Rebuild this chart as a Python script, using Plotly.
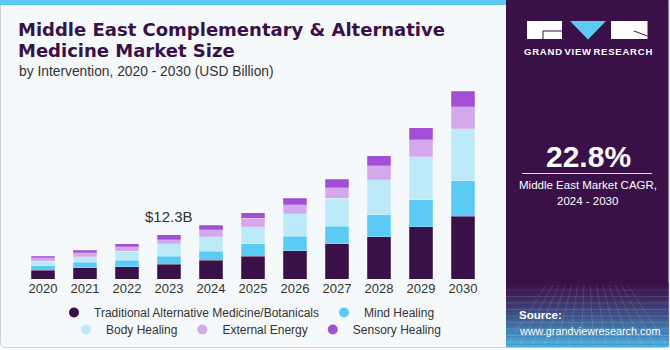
import plotly.graph_objects as go

# ---------------- data ----------------
years = ["2020", "2021", "2022", "2023", "2024", "2025", "2026", "2027", "2028", "2029", "2030"]
traditional = [2.5, 3.1, 3.4, 4.1, 5.2, 6.4, 7.9, 9.8, 11.8, 14.6, 17.6]
mind_healing = [1.2, 1.6, 1.9, 2.3, 2.6, 3.4, 4.1, 5.0, 6.1, 7.5, 9.8]
body_healing = [1.3, 1.5, 2.5, 3.4, 4.0, 4.8, 6.3, 7.7, 9.8, 12.0, 14.6]
external_energy = [0.9, 1.2, 1.2, 1.1, 2.0, 2.4, 2.4, 3.0, 3.9, 4.8, 6.1]
sensory_healing = [0.5, 0.7, 0.9, 1.4, 1.2, 1.5, 1.9, 2.3, 2.8, 3.4, 4.3]

series_names = ["Traditional Alternative Medicine/Botanicals", "Mind Healing",
                "Body Healing", "External Energy", "Sensory Healing"]
series_values = [traditional, mind_healing, body_healing, external_energy, sensory_healing]
series_colors = ["#3A1048", "#5BCAF5", "#BDEAF9", "#D4A8EC", "#A34FD5"]
legend_rows = ["legend", "legend", "legend2", "legend2", "legend2"]

title_line1 = "Middle East Complementary & Alternative"
title_line2 = "Medicine Market Size"
subtitle = "by Intervention, 2020 - 2030 (USD Billion)"
callout_year = "2023"
callout_text = "$12.3B"
cagr_value = "22.8%"
cagr_label1 = "Middle East Market CAGR,"
cagr_label2 = "2024 - 2030"

# ---------------- layout geometry (pixels) ----------------
W_FIG, H_FIG = 670, 350
L, R_EDGE = 22, 484
T, B = 85, 279
PW, PH = R_EDGE - L, B - T
Y_MAX = 54.2


def X(px):
    return (px - L) / PW


def Y(py):
    return (B - py) / PH


FONT = "Liberation Sans, Arial, sans-serif"
DARK = "#3A1048"

fig = go.Figure()

for name, vals, col in zip(series_names, series_values, series_colors):
    fig.add_trace(go.Bar(
        x=years, y=vals, name=name,
        marker=dict(color=col, line=dict(color="rgba(255,255,255,0.35)", width=0.6)),
        showlegend=False, hoverinfo="skip"))

# legend entries with round markers
for name, col, lg in zip(series_names, series_colors, legend_rows):
    fig.add_trace(go.Scatter(
        x=[None], y=[None], mode="markers", name=name, legend=lg,
        marker=dict(color=col, size=10, symbol="circle"), showlegend=True))

callout_idx = years.index(callout_year)
total_callout = sum(v[callout_idx] for v in series_values)

shapes = []
# card background
shapes.append(dict(type="path", xref="paper", yref="paper",
                   path=f"M {X(0.5)},{Y(0.5)} L {X(669)},{Y(0.5)} L {X(669)},{Y(342)} "
                        f"Q {X(669)},{Y(347.5)} {X(664)},{Y(347.5)} L {X(5.5)},{Y(347.5)} "
                        f"Q {X(0.5)},{Y(347.5)} {X(0.5)},{Y(342)} Z",
                   fillcolor="#F5F9FC", line=dict(color="#D2D2D2", width=1), layer="below"))
# top blue strip
shapes.append(dict(type="rect", xref="paper", yref="paper", x0=X(0), x1=X(506), y0=Y(0), y1=Y(5),
                   fillcolor="#5EC8F2", line=dict(width=0), layer="below"))
# right panel
shapes.append(dict(type="rect", xref="paper", yref="paper", x0=X(506), x1=X(668.5), y0=Y(0), y1=Y(347),
                   fillcolor=DARK, line=dict(width=0), layer="below"))
# gradient band at bottom of right panel
g_top, g_bot = 282, 347
n = 24
c0 = (0x3A, 0x10, 0x48)
c1 = (0x48, 0xB4, 0xE6)
for i in range(n):
    t = (i + 0.5) / n
    t2 = t ** 1.3
    c = tuple(int(c0[k] + (c1[k] - c0[k]) * t2) for k in range(3))
    y0p = g_top + (g_bot - g_top) * i / n
    y1p = g_top + (g_bot - g_top) * (i + 1) / n + 0.3
    shapes.append(dict(type="rect", xref="paper", yref="paper", x0=X(506), x1=X(668.5),
                       y0=Y(y0p), y1=Y(y1p), fillcolor=f"rgb{c}", line=dict(width=0), layer="below"))
# faint perspective grid in gradient
for i in range(9):
    yy = 290 + i * 6.5
    shapes.append(dict(type="line", xref="paper", yref="paper", x0=X(506), x1=X(668.5), y0=Y(yy), y1=Y(yy),
                       line=dict(color="rgba(255,255,255,0.12)", width=1), layer="below"))
for i in range(14):
    xx = 506 + i * 12.5
    shapes.append(dict(type="line", xref="paper", yref="paper", x0=X(587 + (xx - 587) * 0.5), x1=X(xx),
                       y0=Y(285), y1=Y(347),
                       line=dict(color="rgba(255,255,255,0.12)", width=1), layer="below"))
# logo
shapes.append(dict(type="rect", xref="paper", yref="paper", x0=X(527), x1=X(562), y0=Y(21), y1=Y(39),
                   fillcolor="white", line=dict(width=0)))
shapes.append(dict(type="path", xref="paper", yref="paper",
                   path=f"M {X(570)},{Y(21)} L {X(606)},{Y(21)} L {X(588)},{Y(39.5)} Z",
                   fillcolor="#5BCAF5", line=dict(width=0)))
shapes.append(dict(type="rect", xref="paper", yref="paper", x0=X(611), x1=X(647.5), y0=Y(21), y1=Y(39),
                   fillcolor="white", line=dict(width=0)))
shapes.append(dict(type="line", xref="paper", yref="paper", x0=X(543), x1=X(562), y0=Y(31), y1=Y(31),
                   line=dict(color=DARK, width=1)))
shapes.append(dict(type="line", xref="paper", yref="paper", x0=X(543), x1=X(543), y0=Y(31), y1=Y(39),
                   line=dict(color=DARK, width=1)))
shapes.append(dict(type="line", xref="paper", yref="paper", x0=X(634), x1=X(647.5), y0=Y(31), y1=Y(36),
                   line=dict(color=DARK, width=1)))
# CAGR separator line
shapes.append(dict(type="line", xref="paper", yref="paper", x0=X(522), x1=X(652), y0=Y(173.5), y1=Y(173.5),
                   line=dict(color="rgba(255,255,255,0.85)", width=1)))

annotations = [
    dict(text=f"<b>{title_line1}</b>", x=X(16), y=Y(29.5), xanchor="left", yanchor="middle",
         font=dict(family="DejaVu Sans, sans-serif", size=18, color=DARK)),
    dict(text=f"<b>{title_line2}</b>", x=X(16), y=Y(50.5), xanchor="left", yanchor="middle",
         font=dict(family="DejaVu Sans, sans-serif", size=18, color=DARK)),
    dict(text=subtitle, x=X(16.5), y=Y(71.5), xanchor="left", yanchor="middle",
         font=dict(family=FONT, size=13.8, color="#333333")),
    dict(text="<b>G R A N D   V I E W   R E S E A R C H</b>".replace(" ", "&#8202;"),
         x=X(587.5), y=Y(51.5), xanchor="center", yanchor="middle",
         font=dict(family=FONT, size=9.5, color="white")),
    dict(text=f"<b>{cagr_value}</b>", x=X(588), y=Y(156), xanchor="center", yanchor="middle",
         font=dict(family=FONT, size=30, color="white")),
    dict(text=cagr_label1, x=X(587.5), y=Y(185), xanchor="center", yanchor="middle",
         font=dict(family=FONT, size=11.5, color="white")),
    dict(text=cagr_label2, x=X(587.5), y=Y(201), xanchor="center", yanchor="middle",
         font=dict(family=FONT, size=11.5, color="white")),
    dict(text="<b>Source:</b>", x=X(517), y=Y(315), xanchor="left", yanchor="middle",
         font=dict(family=FONT, size=11.5, color="white")),
    dict(text="www.grandviewresearch.com", x=X(517), y=Y(330.5), xanchor="left", yanchor="middle",
         font=dict(family=FONT, size=10.8, color="white")),
]
for a in annotations:
    a.update(xref="paper", yref="paper", showarrow=False)

annotations.append(dict(text=callout_text, x=callout_idx, y=total_callout, xref="x", yref="y",
                        xanchor="center", yanchor="middle", yshift=18, showarrow=False,
                        font=dict(family=FONT, size=15, color="#333333")))

legend_style = dict(orientation="h", xanchor="center", yanchor="middle", traceorder="normal",
                    font=dict(family=FONT, size=12, color="#333333"), bgcolor="rgba(0,0,0,0)",
                    itemclick=False, itemdoubleclick=False, tracegroupgap=0)

fig.update_layout(
    width=W_FIG, height=H_FIG,
    margin=dict(l=L, r=W_FIG - R_EDGE, t=T, b=H_FIG - B, autoexpand=False),
    paper_bgcolor="white", plot_bgcolor="rgba(0,0,0,0)",
    barmode="stack", bargap=0.43,
    showlegend=True,
    legend=dict(legend_style, x=X(247), y=Y(312.5)),
    legend2=dict(legend_style, x=X(256), y=Y(329.5)),
    xaxis=dict(type="category", range=[-0.5, 10.5], showgrid=False, zeroline=False, showline=False,
               ticks="", tickfont=dict(family=FONT, size=13, color="#333333"), fixedrange=True),
    yaxis=dict(range=[0, Y_MAX], visible=False, showgrid=False, zeroline=False, fixedrange=True),
    shapes=shapes, annotations=annotations,
    font=dict(family=FONT),
)

fig.write_html("out.html")
